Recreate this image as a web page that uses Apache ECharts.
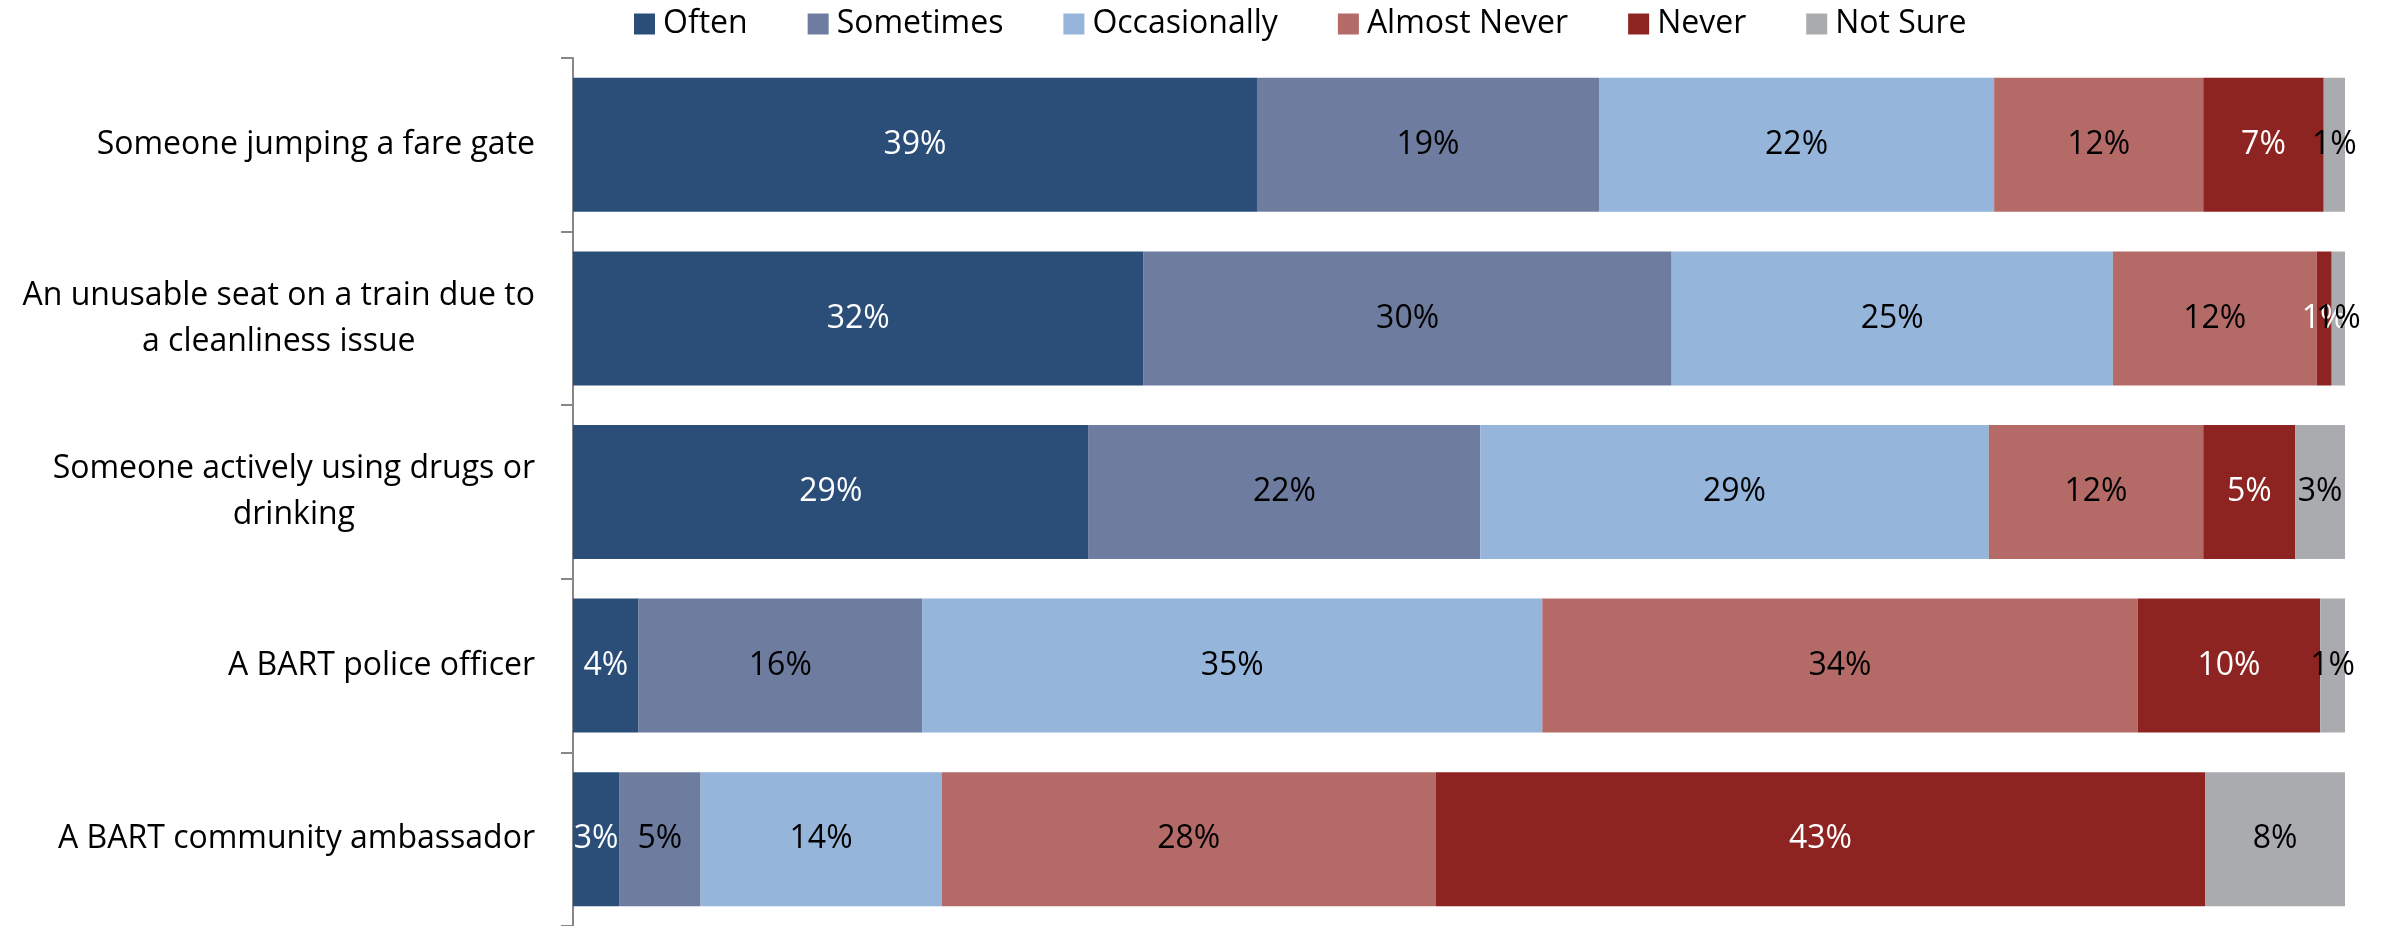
<!DOCTYPE html>
<html>
<head>
<meta charset="utf-8">
<script src="https://cdn.jsdelivr.net/npm/echarts@6/dist/echarts.min.js"></script>
<style>
html,body{margin:0;padding:0;background:#fff;}
#chart{width:2384px;height:926px;}
</style>
</head>
<body>
<div id="chart"></div>
<script>
const categories = [
  "Someone jumping a fare gate",
  "An unusable seat on a train due to\na cleanliness issue",
  "Someone actively using drugs or\ndrinking",
  "A BART police officer",
  "A BART community ambassador"
];
const seriesNames = ["Often", "Sometimes", "Occasionally", "Almost Never", "Never", "Not Sure"];
const often        = [38.6, 32.2, 29.1, 3.7, 2.6];
const sometimes    = [19.3, 29.8, 22.1, 16.0, 4.6];
const occasionally = [22.3, 24.9, 28.7, 35.0, 13.6];
const almostNever  = [11.8, 11.5, 12.1, 33.6, 27.9];
const never        = [6.8, 0.85, 5.2, 10.3, 43.4];
const notSure      = [1.2, 0.75, 2.8, 1.4, 7.9];

const seriesData = [often, sometimes, occasionally, almostNever, never, notSure];
const colors = ["#2A4E78", "#6E7C9F", "#95B5DB", "#B46B68", "#8E2422", "#AAABAE"];
const labelColors = ["#ffffff", "#000000", "#000000", "#000000", "#ffffff", "#000000"];
const FONT = "'Open Sans', 'Noto Sans', sans-serif";

const chart = echarts.init(document.getElementById('chart'));
chart.setOption({
  animation: false,
  legend: {
    left: 634,
    top: 8,
    padding: 0,
    itemWidth: 21,
    itemHeight: 21,
    itemGap: 60,
    icon: 'rect',
    textStyle: { fontSize: 32, fontFamily: FONT, color: '#000', padding: [0, 0, 0, 3] },
    data: seriesNames
  },
  grid: { left: 573, right: 39, top: 58, height: 872, containLabel: false },
  xAxis: { type: 'value', min: 0, max: 100, show: false },
  yAxis: {
    type: 'category',
    inverse: true,
    data: categories,
    axisLine: { show: true, lineStyle: { color: '#878787', width: 2 } },
    axisTick: { show: true, length: 12, lineStyle: { color: '#878787', width: 2 } },
    axisLabel: {
      margin: 38,
      fontSize: 32,
      fontFamily: FONT,
      color: '#000',
      lineHeight: 46,
      formatter: function (v) {
        return v.split('\n').map(function (l) { return '{c|' + l + '}'; }).join('\n');
      },
      rich: { c: { align: 'center', fontSize: 32, fontFamily: FONT, color: '#000', lineHeight: 46 } }
    }
  },
  series: seriesNames.map(function (name, i) {
    return {
      name: name,
      type: 'bar',
      stack: 'total',
      barWidth: 134,
      clip: false,
      itemStyle: { color: colors[i] },
      label: {
        show: true,
        position: 'inside',
        fontSize: 32,
        fontFamily: FONT,
        color: labelColors[i],
        formatter: function (p) { return Math.round(p.value) + '%'; }
      },
      data: seriesData[i]
    };
  })
});
</script>
</body>
</html>
